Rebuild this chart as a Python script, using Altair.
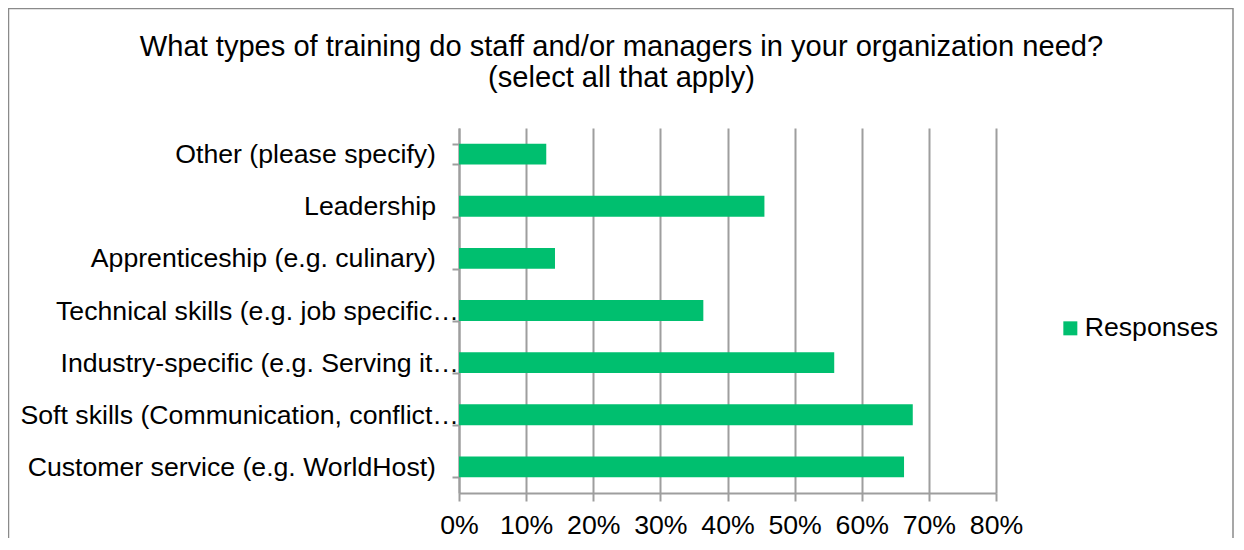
import altair as alt
import pandas as pd

categories = [
    "Other (please specify)",
    "Leadership",
    "Apprenticeship (e.g. culinary)",
    "Technical skills (e.g. job specific…",
    "Industry-specific (e.g. Serving it…",
    "Soft skills (Communication, conflict…",
    "Customer service (e.g. WorldHost)",
]
truncated = [False, False, False, True, True, True, False]
values = [0.130, 0.455, 0.143, 0.364, 0.559, 0.676, 0.663]
series = ["Responses"] * len(categories)
x_ticks = [0, 0.1, 0.2, 0.3, 0.4, 0.5, 0.6, 0.7, 0.8]
title_lines = [
    "What types of training do staff and/or managers in your organization need?",
    "(select all that apply)",
]

df = pd.DataFrame({"category": categories, "value": values, "series": series,
                   "truncated": truncated})

FONT = "Liberation Sans"
FS = 26.67
TFS = 29.1
GRID = "#9e9e9e"
GREEN = "#00BF6F"

y_enc = alt.Y(
    "category:N",
    sort=categories,
    title=None,
    scale=alt.Scale(paddingInner=0.6, paddingOuter=0.3),
    axis=alt.Axis(
        domainColor=GRID, domainWidth=2, tickColor=GRID, tickWidth=2,
        tickSize=7, tickBand="extent", labels=False, grid=False,
    ),
)

bars = alt.Chart(df).mark_bar(color=GREEN).encode(
    y=y_enc,
    x=alt.X(
        "value:Q",
        title=None,
        scale=alt.Scale(domain=[0, 0.8], nice=False, zero=True),
        axis=alt.Axis(
            values=x_ticks, format=".0%", grid=True, gridColor=GRID, gridWidth=2,
            domainColor=GRID, domainWidth=2, tickColor=GRID, tickWidth=2,
            tickSize=8, labelPadding=11, labelFontSize=FS, labelFont=FONT,
            labelColor="#000000", labelOverlap=False, labelFlush=False,
        ),
    ),
    color=alt.Color(
        "series:N",
        scale=alt.Scale(domain=["Responses"], range=[GREEN]),
        legend=alt.Legend(
            title=None, orient="none", legendX=598, legendY=187,
            symbolType="square", symbolSize=196, symbolStrokeWidth=0,
            labelFontSize=FS, labelFont=FONT, labelColor="#000000",
            labelOffset=1, padding=0,
        ),
    ),
)

labels_full = alt.Chart(df).transform_filter("!datum.truncated").mark_text(
    font=FONT, fontSize=FS, color="#000000", align="right", baseline="middle", dy=1
).encode(y=alt.Y("category:N", sort=categories), text="category:N", x=alt.value(-23))

labels_cut = alt.Chart(df).transform_filter("datum.truncated").mark_text(
    font=FONT, fontSize=FS, color="#000000", align="right", baseline="middle", dy=1
).encode(y=alt.Y("category:N", sort=categories), text="category:N", x=alt.value(0))

border = alt.Chart(pd.DataFrame({"b": [0]})).mark_rect(
    fill=None, stroke="#8a8a8a", strokeWidth=1.5
).encode(
    x=alt.value(-450.5), x2=alt.value(774),
    y=alt.value(-119.5), y2=alt.value(440),
)

title1 = alt.Chart(pd.DataFrame({"t": [title_lines[0]]})).mark_text(
    font=FONT, fontSize=TFS, color="#000000", align="center", baseline="middle"
).encode(text="t:N", x=alt.value(162.5), y=alt.value(-81))

title2 = alt.Chart(pd.DataFrame({"t": [title_lines[1]]})).mark_text(
    font=FONT, fontSize=TFS, color="#000000", align="center", baseline="middle"
).encode(text="t:N", x=alt.value(162.5), y=alt.value(-50))

chart = alt.layer(border, bars, labels_full, labels_cut, title1, title2).properties(
    width=537,
    height=365,
    autosize=alt.AutoSizeParams(type="none"),
    padding={"left": 451, "top": 120, "right": 238, "bottom": 45},
).configure_view(stroke=None)

chart.save("out.html", embed_options={"renderer": "svg", "actions": False})
